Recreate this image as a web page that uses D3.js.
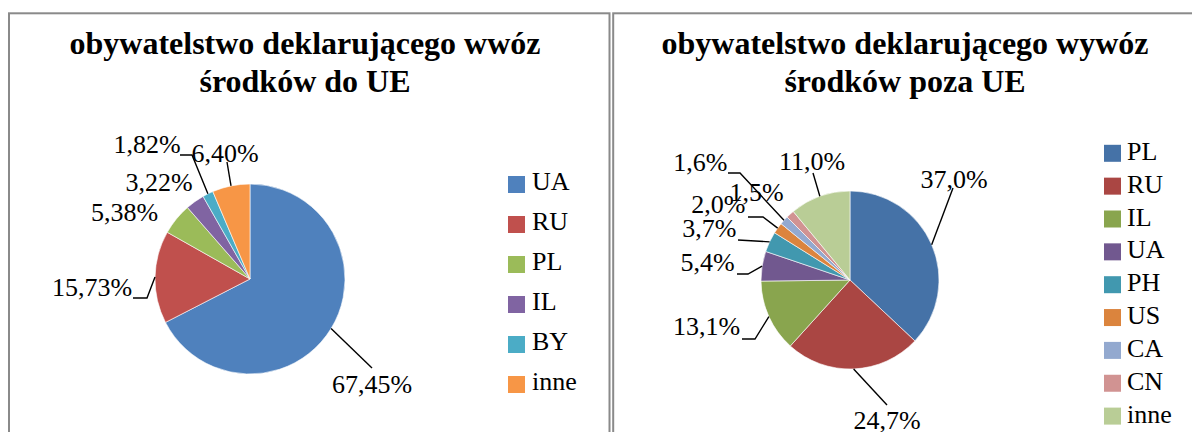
<!DOCTYPE html>
<html>
<head>
<meta charset="utf-8">
<script src="https://cdn.jsdelivr.net/npm/d3@7"></script>
<style>
  body { margin: 0; background: #fff; }
  svg { display: block; }
</style>
</head>
<body>
<svg id="chart" width="1192" height="432" font-family="Liberation Serif, Times New Roman, serif"></svg>
<script>
// data for the left chart (wwóz do UE)
const inCategories = ["UA", "RU", "PL", "IL", "BY", "inne"];
const inValues = [67.45, 15.73, 5.38, 3.22, 1.82, 6.40];
const inColors = ["#4F81BD", "#C0504D", "#9BBB59", "#8064A2", "#4BACC6", "#F79646"];

// data for the right chart (wywóz poza UE)
const outCategories = ["PL", "RU", "IL", "UA", "PH", "US", "CA", "CN", "inne"];
const outValues = [37.0, 24.7, 13.1, 5.4, 3.7, 2.0, 1.6, 1.5, 11.0];
const outColors = ["#4572A7", "#AA4643", "#89A54E", "#71588F", "#4198AF", "#DB843D", "#93A9CF", "#D19392", "#B9CD96"];

const inTitle = ["obywatelstwo deklarującego wwóz", "środków do UE"];
const outTitle = ["obywatelstwo deklarującego wywóz", "środków poza UE"];

// label layout (relative to pie centre): text position and leader points before the slice edge
const inLayout = [
  { pos: [122, 114], leader: [[122, 89]] },
  { pos: [-158, 17], leader: [[-117, 19], [-103, 19]] },
  { pos: [-125.5, -58], leader: null },
  { pos: [-91, -88], leader: null },
  { pos: [-103, -126], leader: [[-70, -124], [-58, -124]] },
  { pos: [-25, -117], leader: [[-23, -117]] }
];
const outLayout = [
  { pos: [104, -92], leader: [[103, -92]] },
  { pos: [37, 149], leader: [[37, 125]] },
  { pos: [-143.5, 55], leader: [[-108, 59], [-95, 59]] },
  { pos: [-142.5, -9], leader: [[-113, -6], [-102, -6]] },
  { pos: [-140.7, -43], leader: [[-112, -40]] },
  { pos: [-131.7, -67], leader: [[-102, -63], [-87, -63]] },
  { pos: [-149.7, -109], leader: [[-122, -107], [-110, -107]] },
  { pos: [-93.5, -79], leader: null },
  { pos: [-38, -110], leader: [[-37, -107]] }
];

const serif = "Liberation Serif, Times New Roman, serif";
const locale = d3.formatLocale({ decimal: ",", thousands: " ", grouping: [3], currency: ["", ""] });

const svg = d3.select("#chart");

function drawPanel(opts) {
  const g = svg.append("g");

  // panel frame
  g.append("rect")
    .attr("x", opts.frame[0]).attr("y", 13.3)
    .attr("width", opts.frame[1]).attr("height", 500)
    .attr("fill", "none").attr("stroke", "#8a8a8a").attr("stroke-width", 2);

  // title
  g.selectAll(".title")
    .data(opts.title)
    .enter().append("text")
      .attr("class", "title")
      .attr("x", opts.titleX)
      .attr("y", (d, i) => 54.3 + i * 37.4)
      .attr("text-anchor", "middle")
      .attr("font-family", serif)
      .attr("font-weight", "bold")
      .attr("font-size", 32)
      .text(d => d);

  const color = d3.scaleOrdinal(opts.categories, opts.colors);
  const fmt = locale.format(opts.fmt);

  const arcs = d3.pie().sort(null).value(d => d.value)(
    opts.categories.map((c, i) => ({ key: c, value: opts.values[i], layout: opts.layout[i] }))
  );
  const arc = d3.arc().innerRadius(0).outerRadius(opts.r);
  const edge = d3.arc().innerRadius(opts.r).outerRadius(opts.r);

  const pie = g.append("g")
    .attr("transform", "translate(" + opts.cx + "," + opts.cy + ")");

  pie.selectAll(".slice")
    .data(arcs)
    .enter().append("path")
      .attr("class", "slice")
      .attr("d", arc)
      .attr("fill", d => color(d.data.key))
      .attr("stroke", "#fff")
      .attr("stroke-width", 0.6);

  // leader lines: from label to the slice edge at mid angle
  pie.selectAll(".leader")
    .data(arcs.filter(d => d.data.layout.leader))
    .enter().append("polyline")
      .attr("class", "leader")
      .attr("fill", "none")
      .attr("stroke", "#000")
      .attr("stroke-width", 1.4)
      .attr("points", d => d.data.layout.leader.concat([edge.centroid(d)]).map(p => p.join(",")).join(" "));

  pie.selectAll(".label")
    .data(arcs)
    .enter().append("text")
      .attr("class", "label")
      .attr("x", d => d.data.layout.pos[0])
      .attr("y", d => d.data.layout.pos[1])
      .attr("text-anchor", "middle")
      .attr("font-family", serif)
      .attr("font-size", 26)
      .text(d => fmt(d.data.value) + "%");

  // legend
  const legend = g.append("g")
    .attr("transform", "translate(" + opts.legendX + "," + opts.legendY + ")");

  const rows = legend.selectAll("g")
    .data(opts.categories)
    .enter().append("g")
      .attr("transform", (d, i) => "translate(0," + (i * opts.legendStep) + ")");

  rows.append("rect")
    .attr("x", 0).attr("y", -8.5)
    .attr("width", 17).attr("height", 17)
    .attr("fill", d => color(d));

  rows.append("text")
    .attr("x", opts.legendText)
    .attr("y", opts.legendBase)
    .attr("font-family", serif)
    .attr("font-size", 26)
    .text(d => d);
}

drawPanel({
  frame: [9, 600.5], title: inTitle, titleX: 305,
  categories: inCategories, values: inValues, colors: inColors, layout: inLayout,
  fmt: ".2f", cx: 250, cy: 279, r: 95,
  legendX: 508, legendY: 184.5, legendStep: 40, legendText: 24, legendBase: 5.5
});

drawPanel({
  frame: [613.2, 600], title: outTitle, titleX: 905,
  categories: outCategories, values: outValues, colors: outColors, layout: outLayout,
  fmt: ".1f", cx: 850, cy: 280, r: 89,
  legendX: 1104, legendY: 153.3, legendStep: 32.85, legendText: 23, legendBase: 6.5
});
</script>
</body>
</html>
